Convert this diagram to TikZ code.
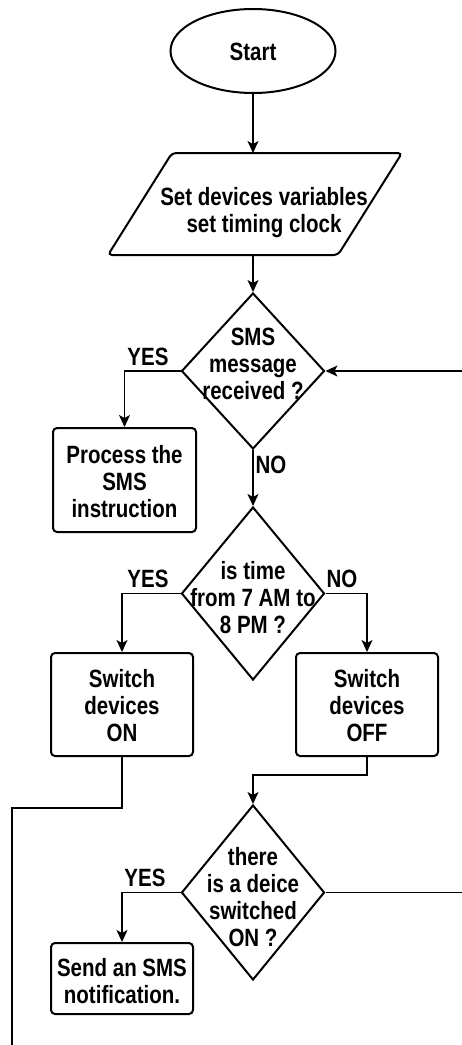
\documentclass[tikz,border=0pt]{standalone}
\usepackage{fontspec}
\setmainfont{Liberation Sans}[FakeStretch=0.82]
\usetikzlibrary{shapes.geometric,arrows.meta,calc}
\begin{document}
\begin{tikzpicture}[x=1pt,y=-1pt,
  shapeline/.style={draw=black,line width=2pt},
  boxnode/.style={shapeline,rectangle,rounded corners=4pt,inner sep=0pt},
  dianode/.style={shapeline,diamond,inner sep=0pt},
  txt/.style={font=\fontsize{25}{27}\selectfont\bfseries,align=center,inner sep=0pt},
  lbl/.style={font=\fontsize{25}{27}\selectfont\bfseries,inner sep=0pt},
  conn/.style={line width=1.3pt,draw=black},
  arr/.style={conn,-{Stealth[length=12pt,width=11pt,inset=3pt]}}
]
\useasboundingbox (0,0) rectangle (462,1045);

% Start
\node[shapeline,ellipse,minimum width=165pt,minimum height=84pt,inner sep=0pt] (start) at (253,51) {};
\node[txt] (startt) at (253,52) {Start};

% parallelogram
\draw[shapeline,rounded corners=4pt] (172,153) -- (402,153) -- (338,255) -- (108,255) -- cycle;
\coordinate (ptop) at (253,153);
\coordinate (pbot) at (253,255);
\node[txt] (par) at (264,213) {Set devices variables\\set timing clock};

% decision 1
\node[dianode,minimum width=143pt,minimum height=156pt] (d1) at (253,371) {};
\node[txt] (d1t) at (253,364) {SMS\\message\\received ?};

% process
\node[boxnode,minimum width=143pt,minimum height=104pt] (proc) at (124.5,480) {};
\node[txt] (proct) at (124.5,482) {Process the\\SMS\\instruction};

% decision 2
\node[dianode,minimum width=143pt,minimum height=173pt] (d2) at (253,593.5) {};
\node[txt] (d2t) at (253,598) {is time\\from 7 AM to\\8 PM ?};

% switch boxes
\node[boxnode,minimum width=142pt,minimum height=103pt] (on) at (122,704.5) {};
\node[txt] (ont) at (122,706) {Switch\\devices\\ON};
\node[boxnode,minimum width=142pt,minimum height=103pt] (off) at (367,704.5) {};
\node[txt] (offt) at (367,706) {Switch\\devices\\OFF};

% decision 3
\node[dianode,minimum width=143pt,minimum height=175pt] (d3) at (253,892.5) {};
\node[txt] (d3t) at (253,897) {there\\is a deice\\switched\\ON ?};

% sms box
\node[boxnode,minimum width=142pt,minimum height=71pt] (sms) at (122,978.5) {};
\node[txt] (smst) at (122,981) {Send an SMS\\notification.};

% labels
\node[lbl] (yes1) at (148,357) {YES};
\node[lbl] (no1) at (271,465) {NO};
\node[lbl] (yes2) at (148,579) {YES};
\node[lbl] (no2) at (342,579) {NO};
\node[lbl] (yes3) at (145,878) {YES};

% coordinates
\coordinate (fbin) at (462,371);
\coordinate (d3out) at (462,892.5);
\coordinate (bl) at (12,1045);

% connectors
\draw[arr] (start.south) -- (ptop);
\draw[arr] (pbot) -- (d1.north);
\draw[arr] (d1.west) -| (proc.north);
\draw[arr] (fbin) -- (d1.east);
\draw[arr] (d1.south) -- (d2.north);
\draw[arr] (d2.west) -| (on.north);
\draw[arr] (d2.east) -| (off.north);
\draw[arr] (off.south) -- ++(0,18) -| (d3.north);
\draw[conn] (on.south) -- ++(0,51) -| (bl);
\draw[arr] (d3.west) -| (sms.north);
\draw[conn] (d3.east) -- (d3out);
\end{tikzpicture}
\end{document}
